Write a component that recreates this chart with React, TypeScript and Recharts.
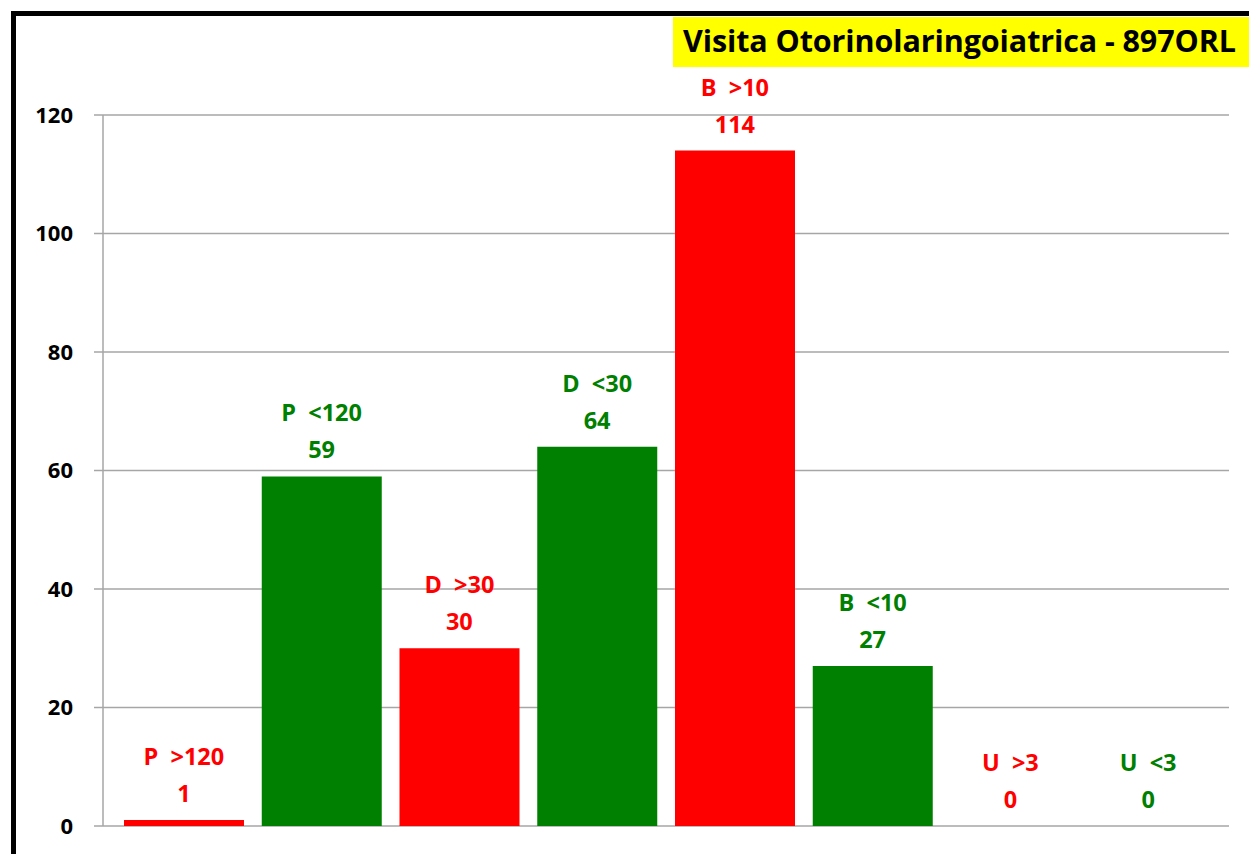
import { Bar, CartesianGrid, Cell, ComposedChart, Scatter, XAxis, YAxis } from "recharts";

const categories = ["P  >120", "P  <120", "D  >30", "D  <30", "B  >10", "B  <10", "U  >3", "U  <3"];
const values = [1, 59, 30, 64, 114, 27, 0, 0];
const barColors = ["#ff0000", "#008000", "#ff0000", "#008000", "#ff0000", "#008000", "#ff0000", "#008000"];
const yTicks = [0, 20, 40, 60, 80, 100, 120];
const title = "Visita Otorinolaringoiatrica - 897ORL";

const data = categories.map((name, i) => ({ name, value: values[i], color: barColors[i] }));

const FONT = "'Open Sans', Lato, sans-serif";

// labels above each bar (two lines: category and value), drawn as scatter shapes so zero bars get them too
function TwoLineLabel(props: any) {
  const { cx, cy, payload } = props;
  if (!payload) return null;
  return (
    <g>
      <text x={cx} y={cy - 64} textAnchor="middle" dominantBaseline="central" fill={payload.color}
        fontFamily={FONT} fontWeight={700} fontSize={23.5} style={{ whiteSpace: "pre" }}>
        {payload.name}
      </text>
      <text x={cx} y={cy - 27} textAnchor="middle" dominantBaseline="central" fill={payload.color}
        fontFamily={FONT} fontWeight={700} fontSize={23.5}>
        {payload.value}
      </text>
    </g>
  );
}

export default function App() {
  return (
    <div style={{ position: "absolute", left: 0, top: 0, width: 1249, height: 854, overflow: "hidden", background: "#fff", fontFamily: FONT }}>
      <div style={{ position: "absolute", left: 11, top: 11, width: 1400, height: 1000, border: "5px solid #000", boxSizing: "border-box" }} />
      <div style={{ position: "absolute", left: 0, top: 0 }}>
        <ComposedChart width={1249} height={854} data={data} margin={{ top: 115, right: 20, bottom: 28, left: 0 }} barSize={120}>
          <CartesianGrid vertical={false} stroke="#a6a6a6" strokeWidth={1.5} />
          <XAxis dataKey="name" hide padding={{ left: 12, right: 12 }} />
          <YAxis
            width={103}
            domain={[0, 120]}
            ticks={yTicks}
            interval={0}
            tickSize={9}
            tickMargin={21}
            axisLine={{ stroke: "#a6a6a6", strokeWidth: 1.5 }}
            tickLine={{ stroke: "#a6a6a6", strokeWidth: 1.5 }}
            tick={{ fill: "#000", fontSize: 22, fontWeight: 700, fontFamily: FONT }}
          />
          <Bar dataKey="value" isAnimationActive={false}>
            {data.map((d, i) => (
              <Cell key={i} fill={d.color} />
            ))}
          </Bar>
          <Scatter dataKey="value" isAnimationActive={false} shape={TwoLineLabel} />
        </ComposedChart>
      </div>
      <div style={{ position: "absolute", left: 673, top: 17, width: 600, height: 50, background: "#ffff00" }}>
        <div style={{ position: "absolute", left: 10, top: 2, fontSize: 30.5, fontWeight: 700, color: "#000", whiteSpace: "nowrap", fontFamily: FONT, letterSpacing: -0.1 }}>
          {title}
        </div>
      </div>
    </div>
  );
}
